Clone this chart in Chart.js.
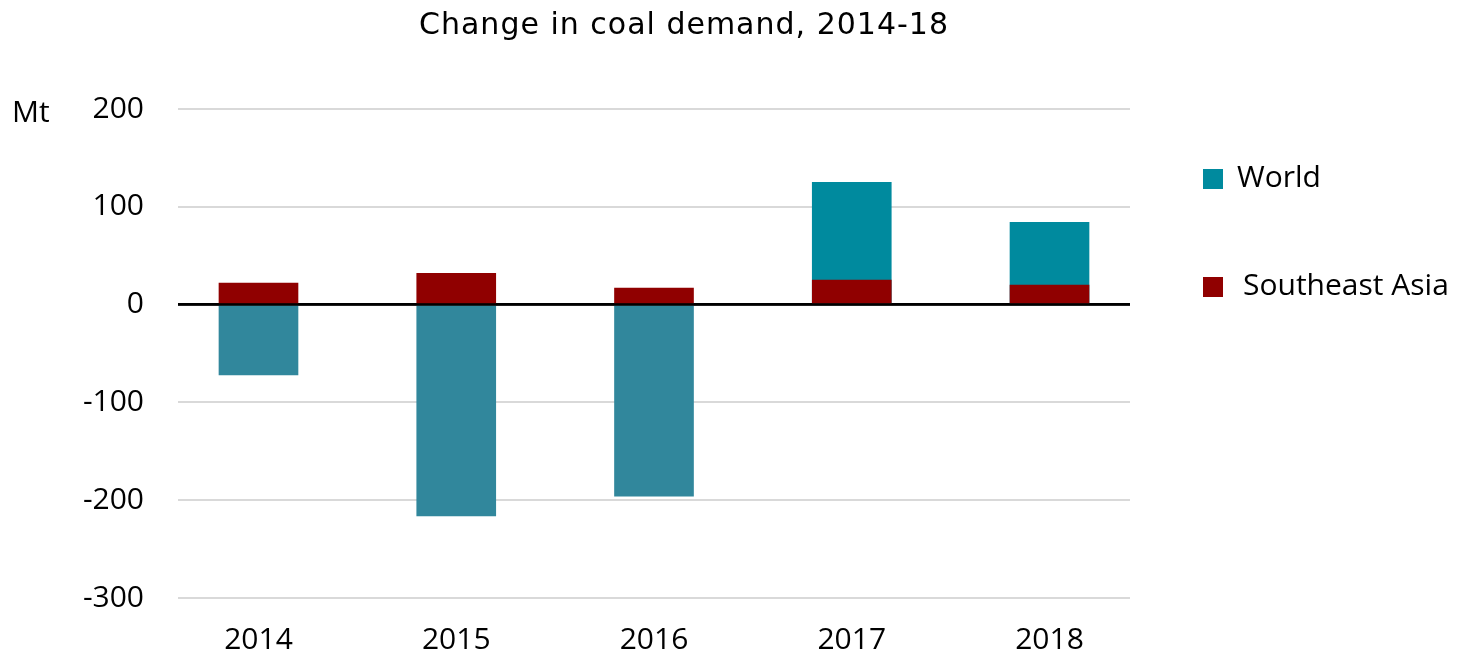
<!DOCTYPE html>
<html>
<head>
<meta charset="utf-8">
<title>Change in coal demand, 2014-18</title>
<script src="https://cdn.jsdelivr.net/npm/chart.js@4.4.0/dist/chart.umd.min.js"></script>
<style>
    html, body { margin: 0; padding: 0; background: #fff; }
    #wrap { position: relative; width: 1460px; height: 655px; }
</style>
</head>
<body>
<div id="wrap"><canvas id="coalChart"></canvas></div>
<script>
const years = ['2014', '2015', '2016', '2017', '2018'];
const worldChange = [-72, -216, -196, 125, 84];
const seAsiaChange = [22, 32, 17, 25, 20];
const yMin = -300;
const yMax = 200;
const yStep = 100;
const chartTitle = 'Change in coal demand, 2014-18';
const unitLabel = 'Mt';

const WORLD_UP = '#008a9e';
const WORLD_DOWN = '#31879c';
const SEA_RED = '#900000';
const GRID = '#d9d9d9';
const FONT = '"Open Sans", "Noto Sans", sans-serif';

// zero line on top of the bars, then title, unit label and the legend on the right
const annotations = {
    id: 'annotations',
    afterDatasetsDraw(chart) {
        const {ctx, scales} = chart;
        const y0 = scales.y.getPixelForValue(0);
        ctx.save();
        ctx.strokeStyle = '#000';
        ctx.lineWidth = 2.5;
        ctx.beginPath();
        ctx.moveTo(chart.chartArea.left, y0);
        ctx.lineTo(chart.chartArea.right, y0);
        ctx.stroke();
        ctx.restore();
    },
    afterDraw(chart) {
        const {ctx} = chart;
        ctx.save();
        ctx.fillStyle = '#000';

        ctx.font = '30px "DejaVu Sans", sans-serif';
        ctx.letterSpacing = '1px';
        ctx.textAlign = 'center';
        ctx.textBaseline = 'alphabetic';
        ctx.fillText(chartTitle, 684, 34);
        ctx.letterSpacing = '0px';

        ctx.font = '30px ' + FONT;
        ctx.textAlign = 'left';
        ctx.fillText(unitLabel, 12, 122);

        const items = [
            {text: chart.data.datasets[0].label, color: WORLD_UP, top: 169, x: 1237},
            {text: chart.data.datasets[1].label, color: SEA_RED, top: 277, x: 1243}
        ];
        ctx.textBaseline = 'middle';
        items.forEach(item => {
            ctx.fillStyle = item.color;
            ctx.fillRect(1203, item.top, 20, 20);
            ctx.fillStyle = '#000';
            ctx.fillText(item.text, item.x, item.top + 9);
        });
        ctx.restore();
    }
};

const ctx = document.getElementById('coalChart').getContext('2d');
new Chart(ctx, {
    type: 'bar',
    data: {
        datasets: [
            {
                label: 'World',
                data: years.map((y, i) => ({x: i, y: worldChange[i]})),
                backgroundColor: c => (c.raw && c.raw.y < 0 ? WORLD_DOWN : WORLD_UP),
                order: 1
            },
            {
                label: 'Southeast Asia',
                data: years.map((y, i) => ({x: i, y: seAsiaChange[i]})),
                backgroundColor: SEA_RED,
                order: 0
            }
        ]
    },
    plugins: [annotations],
    options: {
        responsive: true,
        maintainAspectRatio: false,
        animation: false,
        grouped: false,
        barThickness: 79,
        borderWidth: 0,
        layout: {
            padding: {top: 109, right: 330, bottom: 0, left: 0}
        },
        plugins: {
            legend: {display: false},
            title: {display: false},
            tooltip: {enabled: false}
        },
        scales: {
            x: {
                type: 'linear',
                offset: false,
                min: -0.407,
                max: 4.407,
                afterBuildTicks: scale => {
                    scale.ticks = years.map((y, i) => ({value: i}));
                },
                afterFit: scale => { scale.height = 57; },
                grid: {display: false, drawTicks: false},
                border: {display: false},
                ticks: {
                    autoSkip: false,
                    padding: 24,
                    color: '#000',
                    font: {family: FONT, size: 30},
                    callback: v => years[v]
                }
            },
            y: {
                min: yMin,
                max: yMax,
                afterFit: scale => { scale.width = 178; },
                grid: {
                    drawTicks: false,
                    color: c => (c.tick.value === 0 ? '#000' : GRID),
                    lineWidth: c => (c.tick.value === 0 ? 2.5 : 2)
                },
                border: {display: false},
                ticks: {
                    stepSize: yStep,
                    padding: 34,
                    color: '#000',
                    font: {family: FONT, size: 30}
                }
            }
        }
    }
});
</script>
</body>
</html>
